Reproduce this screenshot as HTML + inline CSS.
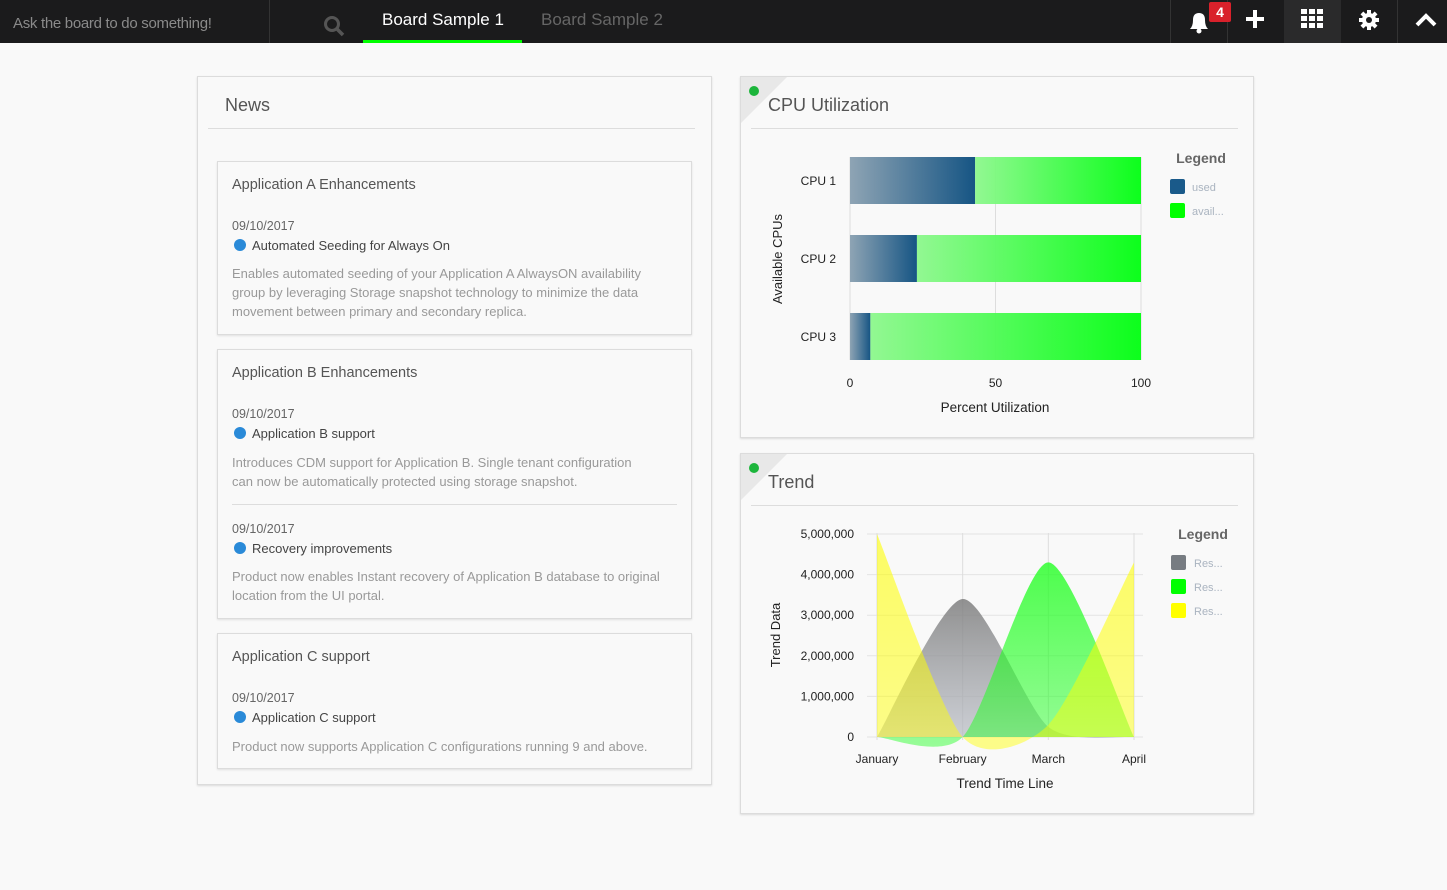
<!DOCTYPE html>
<html><head><meta charset="utf-8">
<style>
*{box-sizing:border-box;margin:0;padding:0}
body{width:1447px;height:890px;background:#f9f9f9;font-family:"Liberation Sans",sans-serif;position:relative;overflow:hidden}
.top{position:absolute;left:0;top:0;width:1447px;height:43px;background:#1b1b1c}
.abs{position:absolute}
.panel{position:absolute;background:#f9f9f9;border:1px solid #dcdcdc;box-shadow:0 1px 2px rgba(0,0,0,.12)}
.card{position:absolute;left:19px;width:475px;background:#f9f9f9;border:1px solid #dcdcdc;box-shadow:0 1px 2px rgba(0,0,0,.1)}
.ct{position:absolute;left:14px;font-size:14.5px;color:#555}
.dt{position:absolute;left:14px;font-size:12.5px;color:#666}
.it{position:absolute;left:14px;font-size:13px;color:#444}
.it::before{content:"";display:inline-block;width:12px;height:12px;border-radius:50%;background:#2a8ad8;margin:0 6px 0 2px;vertical-align:-1px}
.ds{position:absolute;left:14px;width:432px;font-size:13px;line-height:19px;color:#999}
.ptitle{position:absolute;left:27px;top:18px;font-size:18px;color:#555}
.corner{position:absolute;left:0;top:0;width:0;height:0;border-top:46px solid #e8e8e8;border-right:46px solid transparent}
.gdot{position:absolute;left:8px;top:9px;width:10px;height:10px;border-radius:50%;background:#1cb53b}
</style></head><body>
<div class="top">
  <div class="abs" style="left:13px;top:15px;font-size:15px;color:#8a8a8a;letter-spacing:-0.3px">Ask the board to do something!</div>
  <svg class="abs" style="left:323px;top:15px" width="22" height="22"><circle cx="9" cy="9" r="6.5" stroke="#555" stroke-width="3" fill="none"/><line x1="14" y1="14" x2="20" y2="20" stroke="#555" stroke-width="3.5"/></svg>
  <div class="abs" style="left:269px;top:0;width:1px;height:43px;background:#333"></div>
  <div class="abs" style="left:363px;top:0;width:159px;height:43px;border-bottom:3px solid #0f0"><div style="position:absolute;left:19px;top:10px;font-size:17px;color:#fff">Board Sample 1</div></div>
  <div class="abs" style="left:541px;top:10px;font-size:17px;color:#666">Board Sample 2</div>
  <div class="abs" style="left:1170px;top:0;width:1px;height:43px;background:#333"></div>
  <div class="abs" style="left:1227px;top:0;width:1px;height:43px;background:#333"></div>
  <div class="abs" style="left:1284px;top:0;width:57px;height:43px;background:#2a2a2b"></div>
  <div class="abs" style="left:1397px;top:0;width:1px;height:43px;background:#333"></div>
  <svg class="abs" style="left:1186px;top:8px" width="26" height="26"><path d="M4 21 Q7 18 7 12 Q7 5 13 5 Q19 5 19 12 Q19 18 22 21 Z" fill="#fff"/><circle cx="13" cy="23" r="2.5" fill="#fff"/></svg>
  <div class="abs" style="left:1209px;top:2px;width:22px;height:20px;background:#d9212b;border-radius:2px;color:#fff;font-size:14px;font-weight:bold;text-align:center;line-height:20px">4</div>
  <svg class="abs" style="left:1245px;top:9px" width="20" height="20"><rect x="8" y="1" width="4" height="18" fill="#fff"/><rect x="1" y="8" width="18" height="4" fill="#fff"/></svg>
  <svg class="abs" style="left:1301px;top:9px" width="22" height="22"><g fill="#fff"><rect x="0" y="0" width="6" height="5"/><rect x="8" y="0" width="6" height="5"/><rect x="16" y="0" width="6" height="5"/><rect x="0" y="7" width="6" height="5"/><rect x="8" y="7" width="6" height="5"/><rect x="16" y="7" width="6" height="5"/><rect x="0" y="14" width="6" height="5"/><rect x="8" y="14" width="6" height="5"/><rect x="16" y="14" width="6" height="5"/></g></svg>
  <svg class="abs" style="left:1358px;top:9px" width="22" height="22"><g fill="#fff"><circle cx="11" cy="11" r="7"/><rect x="9" y="1" width="4" height="20"/><rect x="1" y="9" width="20" height="4"/><rect x="9" y="1" width="4" height="20" transform="rotate(45 11 11)"/><rect x="9" y="1" width="4" height="20" transform="rotate(-45 11 11)"/></g><circle cx="11" cy="11" r="3" fill="#1b1b1c"/></svg>
  <svg class="abs" style="left:1414px;top:12px" width="24" height="16"><polyline points="3,13 12,4 21,13" stroke="#fff" stroke-width="4" fill="none"/></svg>
</div>

<div class="panel" style="left:197px;top:76px;width:515px;height:709px">
  <div class="abs" style="left:27px;top:18px;font-size:18px;color:#555">News</div>
  <div class="abs" style="left:10px;top:51px;width:487px;height:1px;background:#ddd"></div>
  <div class="card" style="top:84px;height:174px">
    <div class="ct" style="top:15px">Application A Enhancements</div>
    <div class="dt" style="top:57px">09/10/2017</div>
    <div class="it" style="top:76px">Automated Seeding for Always On</div>
    <div class="ds" style="top:102px">Enables automated seeding of your Application A AlwaysON availability group by leveraging Storage snapshot technology to minimize the data movement between primary and secondary replica.</div>
  </div>
  <div class="card" style="top:272px;height:270px">
    <div class="ct" style="top:15px">Application B Enhancements</div>
    <div class="dt" style="top:57px">09/10/2017</div>
    <div class="it" style="top:76px">Application B support</div>
    <div class="ds" style="top:103px;width:420px">Introduces CDM support for Application B. Single tenant configuration can now be automatically protected using storage snapshot.</div>
    <div class="abs" style="left:14px;top:154px;width:445px;height:1px;background:#ddd"></div>
    <div class="dt" style="top:172px">09/10/2017</div>
    <div class="it" style="top:191px">Recovery improvements</div>
    <div class="ds" style="top:217px">Product now enables Instant recovery of Application B database to original location from the UI portal.</div>
  </div>
  <div class="card" style="top:556px;height:136px">
    <div class="ct" style="top:15px">Application C support</div>
    <div class="dt" style="top:57px">09/10/2017</div>
    <div class="it" style="top:76px">Application C support</div>
    <div class="ds" style="top:103px;width:460px">Product now supports Application C configurations running 9 and above.</div>
  </div>
</div>

<div class="panel" style="left:740px;top:76px;width:514px;height:362px">
  <div class="corner"></div><div class="gdot"></div>
  <div class="ptitle">CPU Utilization</div>
  <div class="abs" style="left:10px;top:51px;width:487px;height:1px;background:#ddd"></div>
</div>
<div class="panel" style="left:740px;top:453px;width:514px;height:361px">
  <div class="corner"></div><div class="gdot"></div>
  <div class="ptitle">Trend</div>
  <div class="abs" style="left:10px;top:51px;width:487px;height:1px;background:#ddd"></div>
</div>

<svg class="abs" style="left:0;top:0" width="1447" height="890" id="charts" font-family="Liberation Sans, sans-serif">
<defs>
<linearGradient id="gu" x1="0" x2="1" y1="0" y2="0"><stop offset="0" stop-color="#8ea4b4"/><stop offset="1" stop-color="#165584"/></linearGradient>
<linearGradient id="ga" x1="0" x2="1" y1="0" y2="0"><stop offset="0" stop-color="#8df88d"/><stop offset="1" stop-color="#00ff10"/></linearGradient>
<linearGradient id="tg0" x1="0" x2="0" y1="0" y2="1"><stop offset="0" stop-color="#7e7e7e" stop-opacity=".85"/><stop offset="1" stop-color="#b8bcc4" stop-opacity=".7"/></linearGradient>
<linearGradient id="tg1" x1="0" x2="0" y1="0" y2="1"><stop offset="0" stop-color="#22ff22" stop-opacity=".8"/><stop offset="1" stop-color="#22ff22" stop-opacity=".45"/></linearGradient>
<linearGradient id="tg2" x1="0" x2="0" y1="0" y2="1"><stop offset="0" stop-color="#ffff00" stop-opacity=".6"/><stop offset="1" stop-color="#ffff00" stop-opacity=".45"/></linearGradient>
</defs>
<g id="cpu"></g><g id="trend"></g>
</svg>
<script>
const cpuCategories=["CPU 1","CPU 2","CPU 3"];
const cpuUsed=[43,23,7];
const cpuAvail=[57,77,93];
const cpuTicks=[0,50,100];
const trendMonths=["January","February","March","April"];
const trendSeriesGray=[0,3400000,250000,0];
const trendSeriesGreen=[0,0,4300000,0];
const trendSeriesYellow=[5000000,0,300000,4300000];
const trendTicks=[0,1000000,2000000,3000000,4000000,5000000];
const NS="http://www.w3.org/2000/svg";
function mk(parent,tag,attrs,text){const e=document.createElementNS(NS,tag);for(const k in attrs)e.setAttribute(k,attrs[k]);if(text!==undefined)e.textContent=text;parent.appendChild(e);return e;}
const cpu=document.getElementById('cpu');
const cx=v=>850+v*(1141-850)/100;
const cyTop=i=>157+i*78;
cpuTicks.forEach(t=>{
  let l=mk(cpu,'line',{x1:cx(t),x2:cx(t),y1:157,y2:360,stroke:'#ddd'});
  
  
  let tx=mk(cpu,'text',{x:cx(t),y:387,'font-size':12,'text-anchor':'middle',fill:'#222'},t);
  
  
});
cpuCategories.forEach((c,i)=>{
  let y=cyTop(i);
  let u=mk(cpu,'rect',{x:cx(0),y:y,width:cx(cpuUsed[i])-cx(0),height:47,fill:'url(#gu)'});
  
  
  let a=mk(cpu,'rect',{x:cx(cpuUsed[i]),y:y,width:cx(cpuUsed[i]+cpuAvail[i])-cx(cpuUsed[i]),height:47,fill:'url(#ga)',opacity:.95});
  
  
  let t=mk(cpu,'text',{x:836,y:y+28,'font-size':12,'text-anchor':'end',fill:'#222'},c);
  
  
});
let cyt=mk(cpu,'text',{x:0,y:0,'font-size':13,'text-anchor':'middle',fill:'#222',transform:'translate(782,259) rotate(-90)'},'Available CPUs');


let cxt=mk(cpu,'text',{x:995,y:412,'font-size':13.5,'text-anchor':'middle',fill:'#222'},'Percent Utilization');


let clg=mk(cpu,'text',{x:1201,y:163,'font-size':14,'text-anchor':'middle',fill:'#666','font-weight':'bold'},'Legend');


[['used','#1a5a8a'],['avail...','#0f0']].forEach((l,i)=>{
  let r=mk(cpu,'rect',{x:1170,y:179+i*24,width:15,height:15,rx:2,fill:l[1]});
  
  
  let t=mk(cpu,'text',{x:1192,y:191+i*24,'font-size':11,fill:'#aab4c0'},l[0]);
  
  
});
const tr=document.getElementById('trend');
const tx=i=>877+i*(1134-877)/3;
const ty=v=>737-v*(737-534)/5000000;
trendTicks.forEach(t=>{
  let l=mk(tr,'line',{x1:867,x2:1143,y1:ty(t),y2:ty(t),stroke:'#e4e4e4'});
  
  
  let lb=mk(tr,'text',{x:854,y:ty(t)+4,'font-size':12,'text-anchor':'end',fill:'#222'},t.toLocaleString('en-US'));
  
  
});
trendMonths.forEach((m,i)=>{
  let l=mk(tr,'line',{x1:tx(i),x2:tx(i),y1:533,y2:740,stroke:'#ddd'});
  
  
  let lb=mk(tr,'text',{x:tx(i),y:763,'font-size':12,'text-anchor':'middle',fill:'#222'},m);
  
  
});
function areaPath(vals){
  const p=vals.map((v,i)=>[tx(i),ty(v)]);
  const k=8;
  let d='M'+p[0][0]+','+ty(0)+' L'+p[0][0]+','+p[0][1];
  for(let i=0;i<p.length-1;i++){
    const p0=p[Math.max(0,i-1)],p1=p[i],p2=p[i+1],p3=p[Math.min(p.length-1,i+2)];
    const c1=[p1[0]+(p2[0]-p0[0])/k,p1[1]+(p2[1]-p0[1])/k];
    const c2=[p2[0]-(p3[0]-p1[0])/k,p2[1]-(p3[1]-p1[1])/k];
    d+=' C'+c1+' '+c2+' '+p2;
  }
  return d+' L'+p[p.length-1][0]+','+ty(0)+' Z';
}
[[trendSeriesGray,'url(#tg0)','area-gray'],[trendSeriesGreen,'url(#tg1)','area-green'],[trendSeriesYellow,'url(#tg2)','area-yellow']].forEach(s=>{
  let a=mk(tr,'path',{d:areaPath(s[0]),fill:s[1]});
  
  
});
let tyt=mk(tr,'text',{x:0,y:0,'font-size':13,'text-anchor':'middle',fill:'#222',transform:'translate(780,635) rotate(-90)'},'Trend Data');


let txt=mk(tr,'text',{x:1005,y:788,'font-size':13.5,'text-anchor':'middle',fill:'#222'},'Trend Time Line');


let tlg=mk(tr,'text',{x:1203,y:539,'font-size':14,'text-anchor':'middle',fill:'#666','font-weight':'bold'},'Legend');


['#777c82','#0f0','#ff0'].forEach((c,i)=>{
  let r=mk(tr,'rect',{x:1171,y:555+i*24,width:15,height:15,rx:2,fill:c});
  
  
  let t=mk(tr,'text',{x:1194,y:567+i*24,'font-size':11,fill:'#aab4c0'},'Res...');
  
  
});
</script>
</body></html>
